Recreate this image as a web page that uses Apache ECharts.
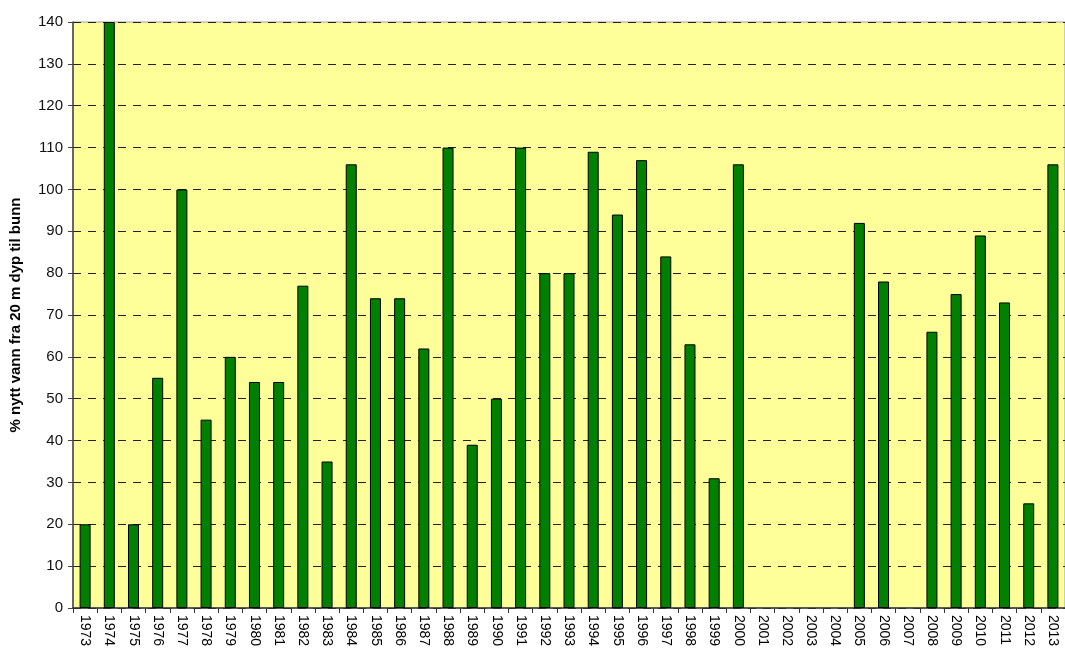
<!DOCTYPE html>
<html>
<head>
<meta charset="utf-8">
<script src="https://cdn.jsdelivr.net/npm/echarts@6/dist/echarts.min.js"></script>
<style>
  html, body { margin: 0; padding: 0; background: #fff; }
  #chart { width: 1065px; height: 652px; }
</style>
</head>
<body>
<div id="chart"></div>
<script>
// years on the x axis
const years = ['1973','1974','1975','1976','1977','1978','1979','1980','1981','1982',
  '1983','1984','1985','1986','1987','1988','1989','1990','1991','1992','1993','1994',
  '1995','1996','1997','1998','1999','2000','2001','2002','2003','2004','2005','2006',
  '2007','2008','2009','2010','2011','2012','2013'];

// % new water from 20 m depth to bottom
const renewal = [20, 140, 20, 55, 100, 45, 60, 54, 54, 77,
  35, 106, 74, 74, 62, 110, 39, 50, 110, 80, 80, 109,
  94, 107, 84, 63, 31, 106, null, null, null, null, 92, 78,
  null, 66, 75, 89, 73, 25, 106];

const yTicks = { min: 0, max: 140, step: 10 };

const chart = echarts.init(document.getElementById('chart'));
chart.setOption({
  animation: false,
  textStyle: { fontFamily: 'Liberation Sans, Arial, sans-serif' },
  grid: {
    left: 73, top: 22, bottom: 44, width: 998,
    show: true, backgroundColor: '#FFFF99', borderColor: '#a0a0a0', borderWidth: 1
  },
  xAxis: {
    type: 'category',
    data: years,
    boundaryGap: true,
    axisLine: { lineStyle: { color: '#333', width: 1.5 } },
    axisTick: { show: true, alignWithLabel: false, length: 5, lineStyle: { color: '#333' } },
    axisLabel: { rotate: -90, color: '#000', fontSize: 14, margin: 7, interval: 0 }
  },
  yAxis: {
    type: 'value',
    min: yTicks.min, max: yTicks.max, interval: yTicks.step,
    name: '% nytt vann fra 20 m dyp til bunn',
    nameLocation: 'middle',
    nameGap: 50,
    nameTextStyle: { fontSize: 15, fontWeight: 'bold', color: '#000' },
    axisLine: { show: true, lineStyle: { color: '#444', width: 1.5 } },
    axisTick: { show: true, length: 5, lineStyle: { color: '#444' } },
    axisLabel: { color: '#111', fontSize: 15, margin: 10 },
    splitLine: { lineStyle: { color: '#222', type: [8, 7], width: 1 } }
  },
  series: [{
    type: 'bar',
    data: renewal,
    barWidth: 11,
    itemStyle: { color: '#008000', borderColor: '#000', borderWidth: 1 }
  }]
});
</script>
</body>
</html>
